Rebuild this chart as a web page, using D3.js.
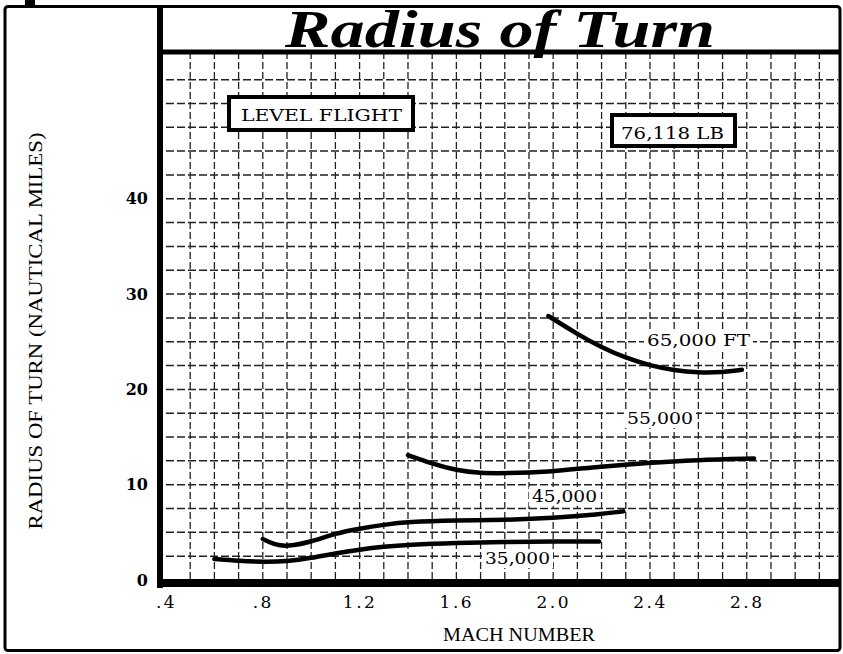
<!DOCTYPE html>
<html>
<head>
<meta charset="utf-8">
<script src="https://cdn.jsdelivr.net/npm/d3@7"></script>
<style>
  body { margin: 0; background: #fff; }
  svg { display: block; }
</style>
</head>
<body>
<div id="chart"></div>
<script>
// values (Mach number vs radius of turn, nautical miles)
var machTicks = [0.4, 0.8, 1.2, 1.6, 2.0, 2.4, 2.8];
var machTickLabels = [".4", ".8", "1.2", "1.6", "2.0", "2.4", "2.8"];
var radiusTicks = [0, 10, 20, 30, 40];

var alt35 = [[0.60, 2.2], [0.70, 2.0], [0.80, 1.9], [0.90, 1.95], [1.00, 2.3], [1.10, 2.8], [1.20, 3.2], [1.30, 3.5], [1.40, 3.7], [1.60, 3.9], [1.80, 4.0], [2.00, 4.05], [2.19, 4.05]];
var alt45 = [[0.80, 4.3], [0.85, 3.7], [0.90, 3.5], [1.00, 4.0], [1.10, 4.9], [1.20, 5.4], [1.30, 5.8], [1.40, 6.1], [1.60, 6.25], [1.80, 6.3], [2.00, 6.5], [2.19, 6.9], [2.29, 7.2]];
var alt55 = [[1.40, 13.1], [1.50, 12.2], [1.60, 11.5], [1.70, 11.2], [1.80, 11.2], [1.97, 11.3], [2.19, 11.9], [2.39, 12.3], [2.59, 12.6], [2.83, 12.75]];
var alt65 = [[1.98, 27.7], [2.10, 25.8], [2.20, 24.4], [2.30, 23.3], [2.40, 22.5], [2.50, 22.0], [2.60, 21.75], [2.70, 21.8], [2.78, 22.05]];

var curveNames = ["35,000", "45,000", "55,000", "65,000 FT"];

var W = 843, H = 654;
var svg = d3.select("#chart").append("svg")
    .attr("width", W)
    .attr("height", H);

var x = d3.scaleLinear().domain([0.4, 3.177]).range([166, 838]);
var y = d3.scaleLinear().domain([0, 55.4]).range([580, 52]);

// outer frame
svg.append("rect")
    .attr("x", 5).attr("y", 6.5)
    .attr("width", 835).attr("height", 644)
    .attr("rx", 3)
    .style("fill", "none").style("stroke", "#000").style("stroke-width", 3);
svg.append("rect") // little stub above the frame, top left
    .attr("x", 25).attr("y", 0).attr("width", 10).attr("height", 7)
    .style("fill", "#000");

// grid
var vLines = d3.range(5, 32).map(function(d) { return d / 10; });
var hLines = d3.range(1, 22).map(function(d) { return d * 2.5; });

svg.append("g").selectAll("line").data(vLines).enter().append("line")
    .attr("x1", function(d) { return x(d); }).attr("x2", function(d) { return x(d); })
    .attr("y1", y(55.4)).attr("y2", y(0))
    .style("stroke", "#222").style("stroke-width", 1.3)
    .style("stroke-dasharray", "7,3");

svg.append("g").selectAll("line").data(hLines).enter().append("line")
    .attr("x1", x(0.4)).attr("x2", x(3.177))
    .attr("y1", function(d) { return y(d); }).attr("y2", function(d) { return y(d); })
    .style("stroke", "#222").style("stroke-width", 1.5)
    .style("stroke-dasharray", "8,3");

// plot borders
svg.append("line").attr("x1", 160).attr("x2", 160).attr("y1", 7).attr("y2", 588)
    .style("stroke", "#000").style("stroke-width", 6);
svg.append("line").attr("x1", 157).attr("x2", 840).attr("y1", 52).attr("y2", 52)
    .style("stroke", "#000").style("stroke-width", 5);
svg.append("line").attr("x1", 157).attr("x2", 840).attr("y1", 583).attr("y2", 583)
    .style("stroke", "#000").style("stroke-width", 8);

// title
svg.append("text")
    .attr("x", 500).attr("y", 47)
    .attr("text-anchor", "middle")
    .attr("textLength", 430).attr("lengthAdjust", "spacingAndGlyphs")
    .style("font-family", "'Liberation Serif', serif")
    .style("font-style", "italic").style("font-weight", "bold")
    .style("font-size", "52px")
    .text("Radius of Turn");

// axes
var xAxis = d3.axisBottom(x)
    .tickValues(machTicks)
    .tickSize(0).tickPadding(8)
    .tickFormat(function(d, i) { return machTickLabels[i]; });
var gx = svg.append("g").attr("transform", "translate(0,588)").call(xAxis);
gx.select(".domain").remove();
gx.selectAll("text")
    .style("font-family", "'DejaVu Serif', serif")
    .style("font-size", "17px").style("fill", "#000")
    .style("letter-spacing", "2.5px");

var yAxis = d3.axisLeft(y)
    .tickValues(radiusTicks)
    .tickSize(0).tickPadding(18);
var gy = svg.append("g").attr("transform", "translate(166,0)").call(yAxis);
gy.select(".domain").remove();
gy.selectAll("text")
    .style("font-family", "'DejaVu Serif', serif")
    .style("font-size", "16px").style("font-weight", "bold").style("fill", "#000");

svg.append("text")
    .attr("x", 519).attr("y", 641)
    .attr("text-anchor", "middle")
    .attr("textLength", 152).attr("lengthAdjust", "spacingAndGlyphs")
    .style("font-family", "'Liberation Serif', serif").style("font-size", "19px")
    .text("MACH NUMBER");

svg.append("text")
    .attr("transform", "translate(42,331) rotate(-90)")
    .attr("text-anchor", "middle")
    .attr("textLength", 397).attr("lengthAdjust", "spacingAndGlyphs")
    .style("font-family", "'Liberation Serif', serif").style("font-size", "19px")
    .text("RADIUS OF TURN (NAUTICAL MILES)");

// boxed notes
function boxNote(bx, by, bw, bh, tx, ty, tl, label) {
    svg.append("rect")
        .attr("x", bx).attr("y", by).attr("width", bw).attr("height", bh)
        .style("fill", "#fff").style("stroke", "#000").style("stroke-width", 4);
    svg.append("text")
        .attr("x", tx).attr("y", ty)
        .attr("text-anchor", "middle")
        .attr("textLength", tl).attr("lengthAdjust", "spacingAndGlyphs")
        .style("font-family", "'DejaVu Serif', serif").style("font-size", "17.5px")
        .text(label);
}
boxNote(229, 97, 184, 33, 321.5, 121, 161, "LEVEL FLIGHT");
boxNote(612, 115, 123, 31, 672.5, 139, 103, "76,118 LB");

// curves
var line = d3.line()
    .x(function(d) { return x(d[0]); })
    .y(function(d) { return y(d[1]); })
    .curve(d3.curveBasis);

svg.append("g").selectAll("path").data([alt35, alt45, alt55, alt65]).enter().append("path")
    .attr("d", line)
    .style("fill", "none").style("stroke", "#000")
    .style("stroke-width", 4.5).style("stroke-linecap", "round");

// curve labels (left edge, baseline, width)
var labelPos = [[485, 564, 65], [532, 502, 65], [627, 424, 66], [647, 346, 103]];
var lab = svg.append("g").selectAll("g").data(curveNames).enter().append("g");
lab.append("rect")
    .attr("x", function(d, i) { return labelPos[i][0] - 3; })
    .attr("y", function(d, i) { return labelPos[i][1] - 15; })
    .attr("width", function(d, i) { return labelPos[i][2] + 6; })
    .attr("height", 19)
    .style("fill", "#fff");
lab.append("text")
    .attr("x", function(d, i) { return labelPos[i][0]; })
    .attr("y", function(d, i) { return labelPos[i][1]; })
    .attr("textLength", function(d, i) { return labelPos[i][2]; })
    .attr("lengthAdjust", "spacingAndGlyphs")
    .style("font-family", "'DejaVu Serif', serif").style("font-size", "17px")
    .text(function(d) { return d; });
</script>
</body>
</html>
